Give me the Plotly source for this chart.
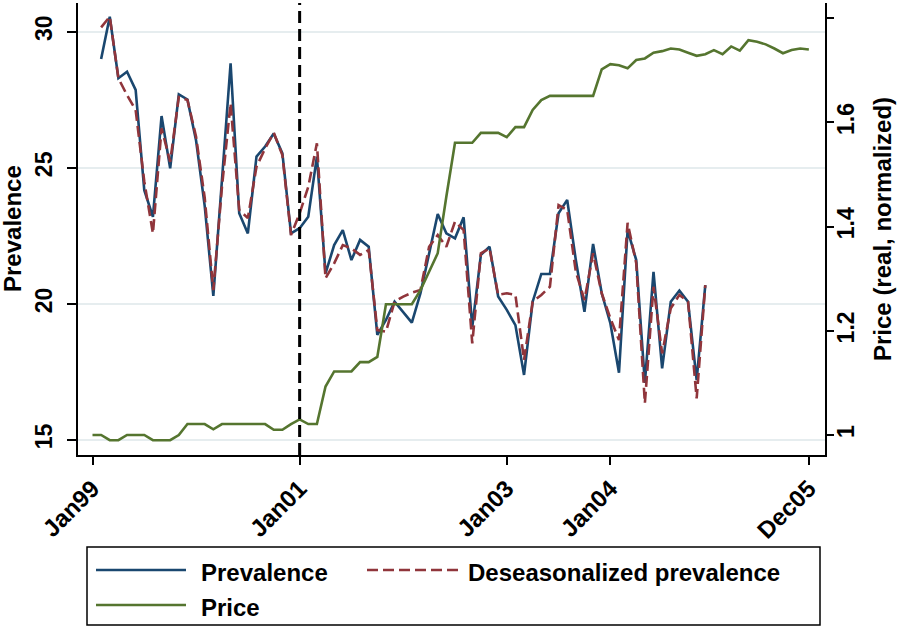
import plotly.graph_objects as go

# ---- data (monthly, month index 0 = Jan99) ----
price_months = list(range(0, 84))
price = [1.0, 1.0, 0.99, 0.99, 1.0, 1.0, 1.0, 0.99, 0.99, 0.99,
         1.0, 1.021, 1.021, 1.021, 1.011, 1.021, 1.021, 1.021, 1.021, 1.021,
         1.021, 1.01, 1.01, 1.021, 1.03, 1.021, 1.021, 1.093, 1.122, 1.122,
         1.122, 1.14, 1.14, 1.15, 1.251, 1.251, 1.251, 1.251, 1.278, 1.314,
         1.349, 1.458, 1.561, 1.561, 1.561, 1.58, 1.58, 1.58, 1.572, 1.591,
         1.591, 1.624, 1.643, 1.651, 1.651, 1.651, 1.651, 1.651, 1.651, 1.702,
         1.712, 1.71, 1.704, 1.72, 1.723, 1.734, 1.737, 1.742, 1.74, 1.734,
         1.728, 1.731, 1.739, 1.731, 1.746, 1.738, 1.758, 1.755, 1.75, 1.742,
         1.733, 1.739, 1.742, 1.74]

prev_months = list(range(1, 72))
prevalence = [29.0, 30.55, 28.29, 28.53, 27.86, 24.18, 23.2, 26.9, 24.98, 27.7,
              27.51, 26.0, 23.6, 20.29, 24.55, 28.84, 23.33, 22.59, 25.41, 25.78,
              26.26, 25.53, 22.59, 22.78, 23.2, 25.41, 21.12, 22.16, 22.71, 21.61,
              22.35, 22.1, 18.86, 19.41, 20.08, 19.71, 19.31, 20.39, 21.86, 23.3,
              22.59, 22.41, 23.18, 19.15, 21.8, 22.1, 20.27, 19.78, 19.22, 17.39,
              20.08, 21.1, 21.1, 23.33, 23.82, 21.61, 19.71, 22.2, 20.39, 19.29,
              17.47, 22.71, 21.61, 17.1, 21.18, 17.63, 20.08, 20.49, 20.08, 17.2,
              20.69]

deseasonalized = [30.16, 30.55, 28.29, 27.67, 27.12, 24.5, 22.59, 26.45, 25.22, 27.6,
                  27.49, 26.14, 23.9, 20.51, 24.3, 27.37, 23.45, 23.15, 25.04, 25.71,
                  26.29, 25.47, 22.53, 23.33, 24.3, 25.9, 20.94, 21.49, 22.16, 22.04,
                  21.8, 21.98, 19.04, 18.98, 20.08, 20.27, 20.41, 20.51, 22.1, 22.53,
                  22.1, 23.02, 22.71, 18.55, 21.86, 22.04, 20.33, 20.39, 20.33, 17.94,
                  20.08, 20.33, 20.63, 23.63, 23.45, 21.18, 20.14, 21.86, 20.39, 19.47,
                  18.67, 22.98, 21.49, 16.35, 20.63, 18.18, 19.84, 20.33, 20.08, 16.53,
                  20.69]

x_tick_vals = [0, 24, 48, 60, 83]
x_tick_text = ["Jan99", "Jan01", "Jan03", "Jan04", "Dec05"]
left_tick_vals = [15, 20, 25, 30]
right_tick_vals = [1, 1.2, 1.4, 1.6, 1.8]
right_tick_text = ["1", "1.2", "1.4", "1.6", "1.8"]
policy_month = 24

NAVY = "#1A476F"
MAROON = "#90353B"
GREEN = "#55752F"
GRID = "#E6EDEF"
FONT = dict(family="Liberation Sans, Arial, sans-serif", size=24, color="black", weight="bold")
YTICKFONT = dict(family="Liberation Sans, Arial, sans-serif", size=23, color="black", weight="bold")

W, H = 904, 628
L, R, T, B = 78, 79, 3, 173
PW, PH = W - L - R, H - T - B


def px(x):
    return (x - L) / PW


def py(y):
    return (H - B - y) / PH


fig = go.Figure()
fig.add_trace(go.Scatter(x=prev_months, y=prevalence, mode="lines", name="Prevalence",
                         line=dict(color=NAVY, width=2.6), showlegend=False))
fig.add_trace(go.Scatter(x=prev_months, y=deseasonalized, mode="lines",
                         name="Deseasonalized prevalence",
                         line=dict(color=MAROON, width=2.6, dash="11px,5px"), showlegend=False))
fig.add_trace(go.Scatter(x=price_months, y=price, mode="lines", name="Price", yaxis="y2",
                         line=dict(color=GREEN, width=2.6), showlegend=False))

# vertical dashed line at Jan01
fig.add_shape(type="line", x0=policy_month, x1=policy_month, xref="x", yref="paper",
              y0=0, y1=1, line=dict(color="black", width=3, dash="12px,6px"))

# legend box (manual, Stata style)
fig.add_shape(type="rect", xref="paper", yref="paper", x0=px(87), x1=px(820),
              y0=py(625), y1=py(547), line=dict(color="black", width=1.5))
legend_items = [
    ("Prevalence", NAVY, "solid", 96, 186, 570, 199),
    ("Deseasonalized prevalence", MAROON, "11px,5px", 367, 458, 570, 466),
    ("Price", GREEN, "solid", 96, 186, 605, 199),
]
for label, col, dash, lx0, lx1, ly, tx in legend_items:
    fig.add_shape(type="line", xref="paper", yref="paper", x0=px(lx0), x1=px(lx1),
                  y0=py(ly), y1=py(ly), line=dict(color=col, width=2.6, dash=dash))
    fig.add_annotation(text=label, xref="paper", yref="paper", x=px(tx), y=py(ly + 2),
                       xanchor="left", yanchor="middle", showarrow=False, font=FONT)

# axis titles
fig.add_annotation(text="Prevalence", xref="paper", yref="paper", x=px(12), y=py(229),
                   xanchor="center", yanchor="middle", textangle=-90, showarrow=False, font=FONT)
fig.add_annotation(text="Price (real, normalized)", xref="paper", yref="paper", x=px(882),
                   y=py(229), xanchor="center", yanchor="middle", textangle=-90,
                   showarrow=False, font=FONT)

fig.update_layout(
    width=W, height=H,
    margin=dict(l=L, r=R, t=T, b=B, autoexpand=False),
    paper_bgcolor="white", plot_bgcolor="white",
    font=FONT,
    showlegend=False,
    xaxis=dict(range=[-1.68, 84.87], tickvals=x_tick_vals, ticktext=x_tick_text,
               tickangle=-45, showgrid=False, zeroline=False, showline=True,
               linecolor="black", linewidth=2, ticks="outside", ticklen=8, tickwidth=2,
               tickcolor="black", tickfont=FONT, automargin=False),
    yaxis=dict(range=[14.449, 31.054], tickvals=left_tick_vals, tickangle=-90,
               showgrid=True, gridcolor=GRID, gridwidth=2, zeroline=False,
               showline=True, linecolor="black", linewidth=2, ticks="outside",
               ticklen=9, tickwidth=2, tickcolor="black", tickfont=YTICKFONT,
               ticklabelstandoff=6, automargin=False),
    yaxis2=dict(range=[0.9616, 1.8294], tickvals=right_tick_vals, ticktext=right_tick_text,
                tickangle=-90, overlaying="y", side="right", showgrid=False,
                zeroline=False, showline=True, linecolor="black", linewidth=2,
                ticks="outside", ticklen=7, tickwidth=2, tickcolor="black",
                tickfont=YTICKFONT, ticklabelstandoff=-8, automargin=False),
)

fig.write_html("out.html", config={"displayModeBar": False},
               post_script="document.body.style.margin='0';document.body.style.padding='0';")
